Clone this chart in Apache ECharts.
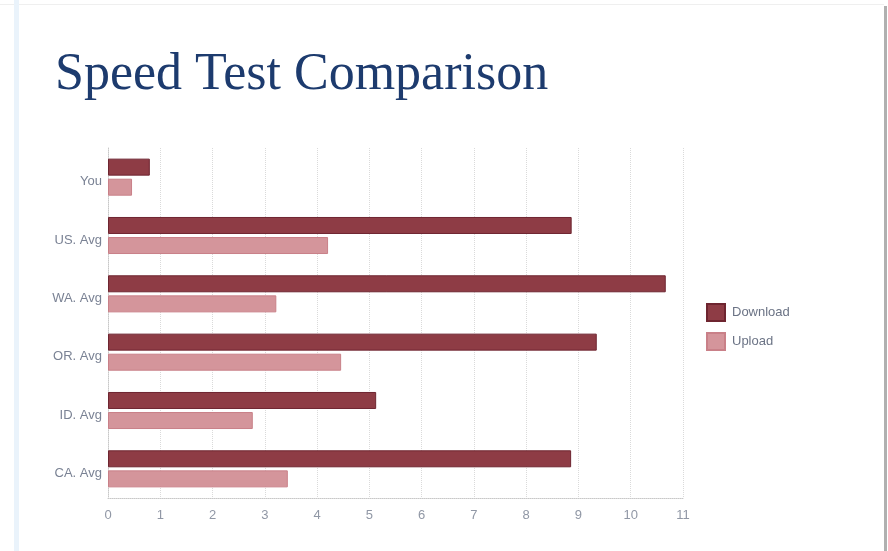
<!DOCTYPE html>
<html>
<head>
<meta charset="utf-8">
<script src="https://cdn.jsdelivr.net/npm/echarts@6/dist/echarts.min.js"></script>
<style>
html,body{margin:0;padding:0;background:#fff;}
#c{width:888px;height:551px;}
</style>
</head>
<body>
<div id="c"></div>
<script>
const categories = ['You', 'US. Avg', 'WA. Avg', 'OR. Avg', 'ID. Avg', 'CA. Avg'];
const downloadValues = [0.8, 8.87, 10.67, 9.35, 5.13, 8.86];
const uploadValues = [0.46, 4.21, 3.22, 4.46, 2.77, 3.44];
const seriesNames = ['Download', 'Upload'];

const chart = echarts.init(document.getElementById('c'));
const labelColor = '#7a8294';
chart.setOption({
  backgroundColor: '#ffffff',
  animation: false,
  title: {
    text: 'Speed Test Comparison',
    left: 50, top: 44,
    textStyle: { fontFamily: 'Liberation Serif', fontSize: 52, fontWeight: 'normal', color: '#1d3b6e' }
  },
  legend: {
    orient: 'vertical',
    left: 701, top: 298,
    itemWidth: 18, itemHeight: 17, itemGap: 10,
    icon: 'rect',
    data: seriesNames,
    textStyle: { fontFamily: 'Liberation Sans', fontSize: 13, color: '#6b7385', padding: [0,0,0,2] }
  },
  grid: { left: 108, right: 205, top: 148, bottom: 53, containLabel: false },
  xAxis: {
    type: 'value', min: 0, max: 11, interval: 1,
    axisLine: { show: true, lineStyle: { color: '#c8c8c8', type: 'dotted', width: 1 } },
    axisTick: { show: false },
    axisLabel: { fontFamily: 'Liberation Sans', fontSize: 13, color: '#9097a5', margin: 11 },
    splitLine: { show: true, lineStyle: { color: '#dadada', type: 'dotted', width: 1 } }
  },
  yAxis: {
    type: 'category', inverse: true, data: categories,
    axisLine: { show: true, lineStyle: { color: '#c8c8c8', type: 'dotted' } },
    axisTick: { show: false },
    axisLabel: { fontFamily: 'Liberation Sans', fontSize: 13, color: labelColor, margin: 6, verticalAlign: 'top', lineHeight: 9 },
    splitLine: { show: false }
  },
  series: [
    {
      name: seriesNames[0], type: 'bar', data: downloadValues,
      barWidth: 17, barGap: '18%',
      itemStyle: { color: '#8e3c45', borderColor: '#6e2530', borderWidth: 1 }
    },
    {
      name: seriesNames[1], type: 'bar', data: uploadValues,
      barWidth: 17, barGap: '18%',
      itemStyle: { color: '#d4959b', borderColor: '#c98088', borderWidth: 1 }
    }
  ],
  graphic: [
    { type: 'rect', shape: { x: 884, y: 6, width: 3, height: 545 }, style: { fill: '#b0b0b0' }, silent: true },
    { type: 'rect', shape: { x: 0, y: 4, width: 884, height: 1 }, style: { fill: '#efefef' }, silent: true },
    { type: 'rect', shape: { x: 14, y: 0, width: 5, height: 551 }, style: { fill: '#eaf3fb' }, silent: true }
  ]
});
</script>
</body>
</html>
